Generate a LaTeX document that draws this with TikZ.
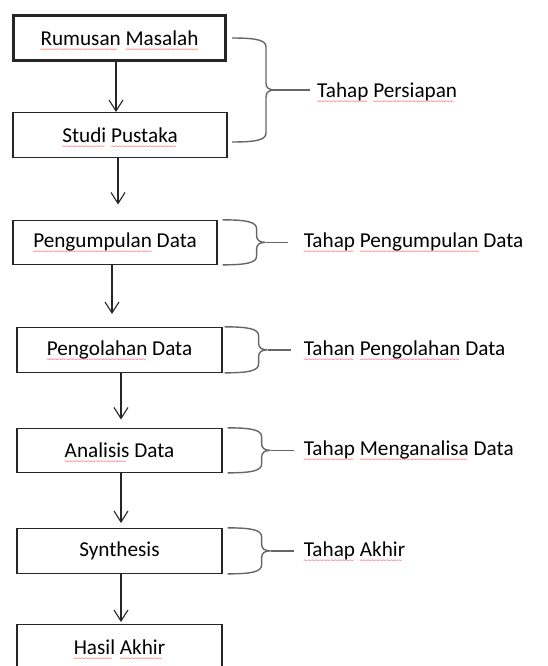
\documentclass[tikz,border=0pt]{standalone}
\usepackage{fontspec}
\setmainfont{Carlito}
\newfontfamily\gelombang{DejaVu Sans}
\usetikzlibrary{positioning, arrows.meta}

% red spell-check wave under a word
\newsavebox\katabox
\newcommand\salah[1]{\sbox\katabox{#1}\rlap{\raisebox{-6pt}[0pt][0pt]{\textcolor{red!85}{\gelombang\fontsize{6}{6}\selectfont\leaders\hbox{\kern-0.6pt ∼\kern-0.6pt}\hskip\wd\katabox}}}\usebox\katabox}

\begin{document}
\begin{tikzpicture}[x=1pt, y=-1pt,
            font=\fontsize{21.2}{25}\selectfont,
            kotak/.style={draw=black!85, line width=1.2pt, rectangle, minimum width=205pt, minimum height=44.5pt, inner sep=0pt},
            panah/.style={-{Straight Barb[length=11pt, width=14pt]}, line width=1.1pt, draw=black!85},
            kurung/.style={draw=black!60, line width=1.4pt},
            tahap/.style={inner sep=2pt, anchor=west},
            kurawal/.pic={
                \draw[kurung] (0,-#1) .. controls (24,-#1) and (34,-#1+2) .. (34,-#1+9) -- (34,-7)
                    .. controls (34,-2) and (37,0) .. (43,0) .. controls (37,0) and (34,2) .. (34,7)
                    -- (34,#1-9) .. controls (34,#1-2) and (24,#1) .. (0,#1);
                \coordinate (-ujung) at (43,0);
            }]
    \clip (0,0) rectangle (548,666);

    % Boxes
    \node[kotak, line width=3pt, minimum width=212pt, minimum height=45pt] (rumusan) at (119.5,38.5) {\salah{Rumusan} \salah{Masalah}};
    \node[kotak, minimum width=214pt, below=49.5pt of rumusan, xshift=0.5pt] (studi) {\salah{Studi} \salah{Pustaka}};
    \node[kotak, minimum width=204pt, below=61.8pt of studi, xshift=-5pt] (kumpul) {\salah{Pengumpulan} Data};
    \node[kotak, below=61.8pt of kumpul, xshift=4.5pt] (olah) {\salah{Pengolahan} Data};
    \node[kotak, below=54.8pt of olah] (analisis) {\salah{Analisis} Data};
    \node[kotak, below=54.8pt of analisis] (sintesis) {Synthesis};
    \node[kotak, below=50.3pt of sintesis] (hasil) {\salah{Hasil} \salah{Akhir}};

    % Arrows
    \draw[panah] ([xshift=-3.5pt]rumusan.south) -- ([xshift=-3.5pt]rumusan.south |- studi.north);
    \draw[panah, shorten >=15pt] ([xshift=-2pt]studi.south) -- ([xshift=-2pt]studi.south |- kumpul.north);
    \draw[panah, shorten >=13pt] ([xshift=-3pt]kumpul.south) -- ([xshift=-3pt]kumpul.south |- olah.north);
    \draw[panah, shorten >=8pt] ([xshift=1.5pt]olah.south) -- ([xshift=1.5pt]olah.south |- analisis.north);
    \draw[panah, shorten >=5pt] ([xshift=1.5pt]analisis.south) -- ([xshift=1.5pt]analisis.south |- sintesis.north);
    \draw[panah, shorten >=2pt] ([xshift=1.5pt]sintesis.south) -- ([xshift=1.5pt]sintesis.south |- hasil.north);

    % Braces
    \pic (k1) at (232,90) {kurawal=52};
    \pic (k2) at ([xshift=5pt]kumpul.east) {kurawal=22.5};
    \pic (k3) at ([xshift=2pt]olah.east) {kurawal=23};
    \pic (k4) at ([xshift=5pt]analisis.east) {kurawal=22.5};
    \pic (k5) at ([xshift=5pt]sintesis.east) {kurawal=23};

    % Stages
    \node[tahap, right=40pt of k1-ujung, yshift=-2pt] (t1) {\salah{Tahap} \salah{Persiapan}};
    \node[tahap, right=36pt of k2-ujung] (t2) {\salah{Tahap} \salah{Pengumpulan} Data};
    \node[tahap, right=34pt of k3-ujung] (t3) {\salah{Tahan} \salah{Pengolahan} Data};
    \node[tahap, right=31pt of k4-ujung] (t4) {\salah{Tahap} \salah{Menganalisa} Data};
    \node[tahap, right=31pt of k5-ujung] (t5) {\salah{Tahap} \salah{Akhir}};

    \draw[kurung, shorten >=5pt] (k1-ujung) -- (k1-ujung -| t1.west);
    \draw[kurung, shorten >=14pt] (k2-ujung) -- (t2.west);
    \draw[kurung, shorten >=11pt] (k3-ujung) -- (t3.west);
    \draw[kurung, shorten >=8pt] (k4-ujung) -- (t4.west);
    \draw[kurung, shorten >=8pt] (k5-ujung) -- (t5.west);
\end{tikzpicture}
\end{document}
